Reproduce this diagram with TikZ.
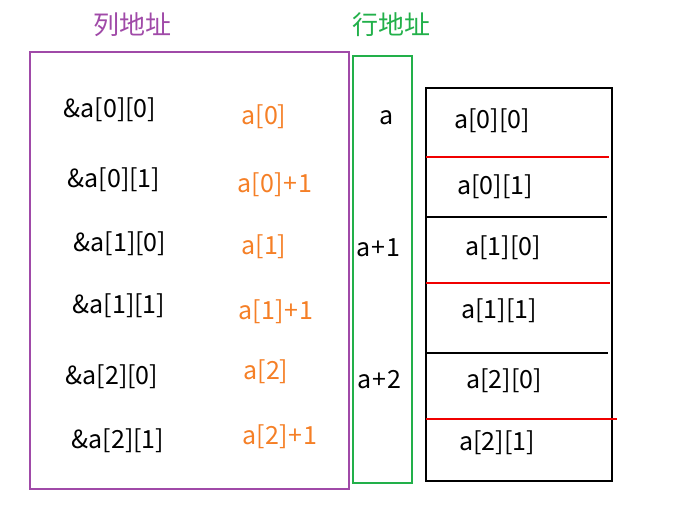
\documentclass[tikz,border=0pt]{standalone}
\usepackage{fontspec}
\setmainfont{Noto Sans CJK SC}
\newfontfamily\cjk{Noto Sans CJK SC}
\definecolor{purp}{HTML}{A04AA8}
\definecolor{grn}{HTML}{22B04A}
\definecolor{orng}{HTML}{F57F26}
\definecolor{redl}{HTML}{F00000}
\newcommand{\pl}{\kern1pt+\kern1pt}
\begin{document}
\begin{tikzpicture}[x=1pt,y=-1pt,
  txt/.style={inner sep=0pt,font=\fontsize{25}{28}\selectfont},
  otxt/.style={txt,text=orng},
  ttl/.style={inner sep=0pt,font=\cjk\fontsize{26}{28}\selectfont}]
\useasboundingbox (0,0) rectangle (698,504);
% titles
\node[ttl,text=purp] (t1) at (132,25) {列地址};
\node[ttl,text=grn] (t2) at (391,25) {行地址};
% boxes
\draw[purp,line width=2pt] (30,52) rectangle (349,489);
\draw[grn,line width=2pt] (353,56) rectangle (412,483);
\draw[black,line width=2pt] (426,88) rectangle (612,481);
% separators
\draw[redl,line width=1.2pt] (426,157) -- (609,157);
\draw[black,line width=1.2pt] (426,217) -- (607,217);
\draw[redl,line width=1.2pt] (426,283) -- (610,283);
\draw[black,line width=1.2pt] (426,353) -- (608,353);
\draw[redl,line width=1.2pt] (426,419) -- (617,419);
% left column
\node[txt] (l1) at (110,110) {\&a[0][0]};
\node[txt] (l2) at (114,180) {\&a[0][1]};
\node[txt] (l3) at (120,244) {\&a[1][0]};
\node[txt] (l4) at (119,306) {\&a[1][1]};
\node[txt] (l5) at (112,377) {\&a[2][0]};
\node[txt] (l6) at (118,441) {\&a[2][1]};
% orange
\node[otxt] (o1) at (264,117) {a[0]};
\node[otxt] (o2) at (275,185) {a[0]\pl1};
\node[otxt] (o3) at (264,247) {a[1]};
\node[otxt] (o4) at (276,312) {a[1]\pl1};
\node[otxt] (o5) at (266,372) {a[2]};
\node[otxt] (o6) at (280,437) {a[2]\pl1};
% row addresses
\node[txt] (r1) at (387,118) {a};
\node[txt] (r2) at (378,248) {a\pl1};
\node[txt] (r3) at (379,380) {a\pl2};
% memory
\node[txt] (m1) at (492,121) {a[0][0]};
\node[txt] (m2) at (495,187) {a[0][1]};
\node[txt] (m3) at (503,248) {a[1][0]};
\node[txt] (m4) at (499,311) {a[1][1]};
\node[txt] (m5) at (504,381) {a[2][0]};
\node[txt] (m6) at (497,443) {a[2][1]};
\end{tikzpicture}
\end{document}
